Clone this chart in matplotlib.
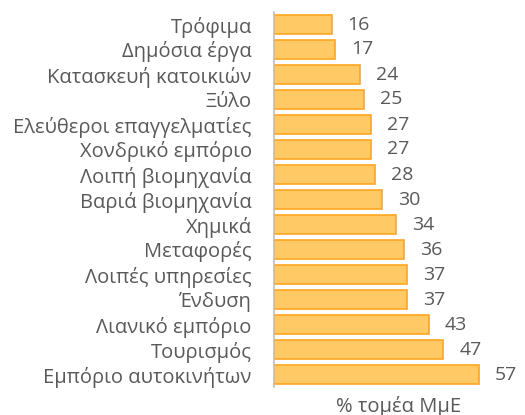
import matplotlib
matplotlib.use("Agg")
import matplotlib.pyplot as plt

categories = ["Τρόφιμα", "Δημόσια έργα", "Κατασκευή κατοικιών", "Ξύλο",
              "Ελεύθεροι επαγγελματίες", "Χονδρικό εμπόριο", "Λοιπή βιομηχανία",
              "Βαριά βιομηχανία", "Χημικά", "Μεταφορές", "Λοιπές υπηρεσίες",
              "Ένδυση", "Λιανικό εμπόριο", "Τουρισμός", "Εμπόριο αυτοκινήτων"]
values = [16, 17, 24, 25, 27, 27, 28, 30, 34, 36, 37, 37, 43, 47, 57]
xlabel = "% τομέα ΜμΕ"

plt.rcParams['font.family'] = ['Open Sans', 'DejaVu Sans']
txt = '#595959'

fig = plt.figure(figsize=(5.25, 4.15), dpi=100)
ax = fig.add_axes([274/525, 1-387/415, 216/525, (387-12)/415])

y = list(range(len(categories)))
ax.barh(y, values, height=0.77, color='#FFC966', edgecolor='#FFA520', linewidth=1.2)
ax.set_ylim(len(categories)-0.5, -0.5)
ax.set_xlim(0, 60)
ax.set_yticks(y)
ax.set_yticklabels(categories, fontsize=14.5, color=txt)
ax.tick_params(axis='y', length=0, pad=16)
ax.set_xticks([])
for s in ['top', 'right', 'bottom']:
    ax.spines[s].set_visible(False)
ax.spines['left'].set_color('#BFBFBF')
ax.spines['left'].set_linewidth(1.2)
for yi, v in zip(y, values):
    ax.annotate(str(v), xy=(v, yi), xytext=(11.5, 0), textcoords='offset points',
                va='center', ha='left', fontsize=14, color=txt, annotation_clip=False)
fig.text(399/525, 1-406/415, xlabel, ha='center', va='center', fontsize=14.5, color=txt)
fig.savefig("out.png", dpi=100)
